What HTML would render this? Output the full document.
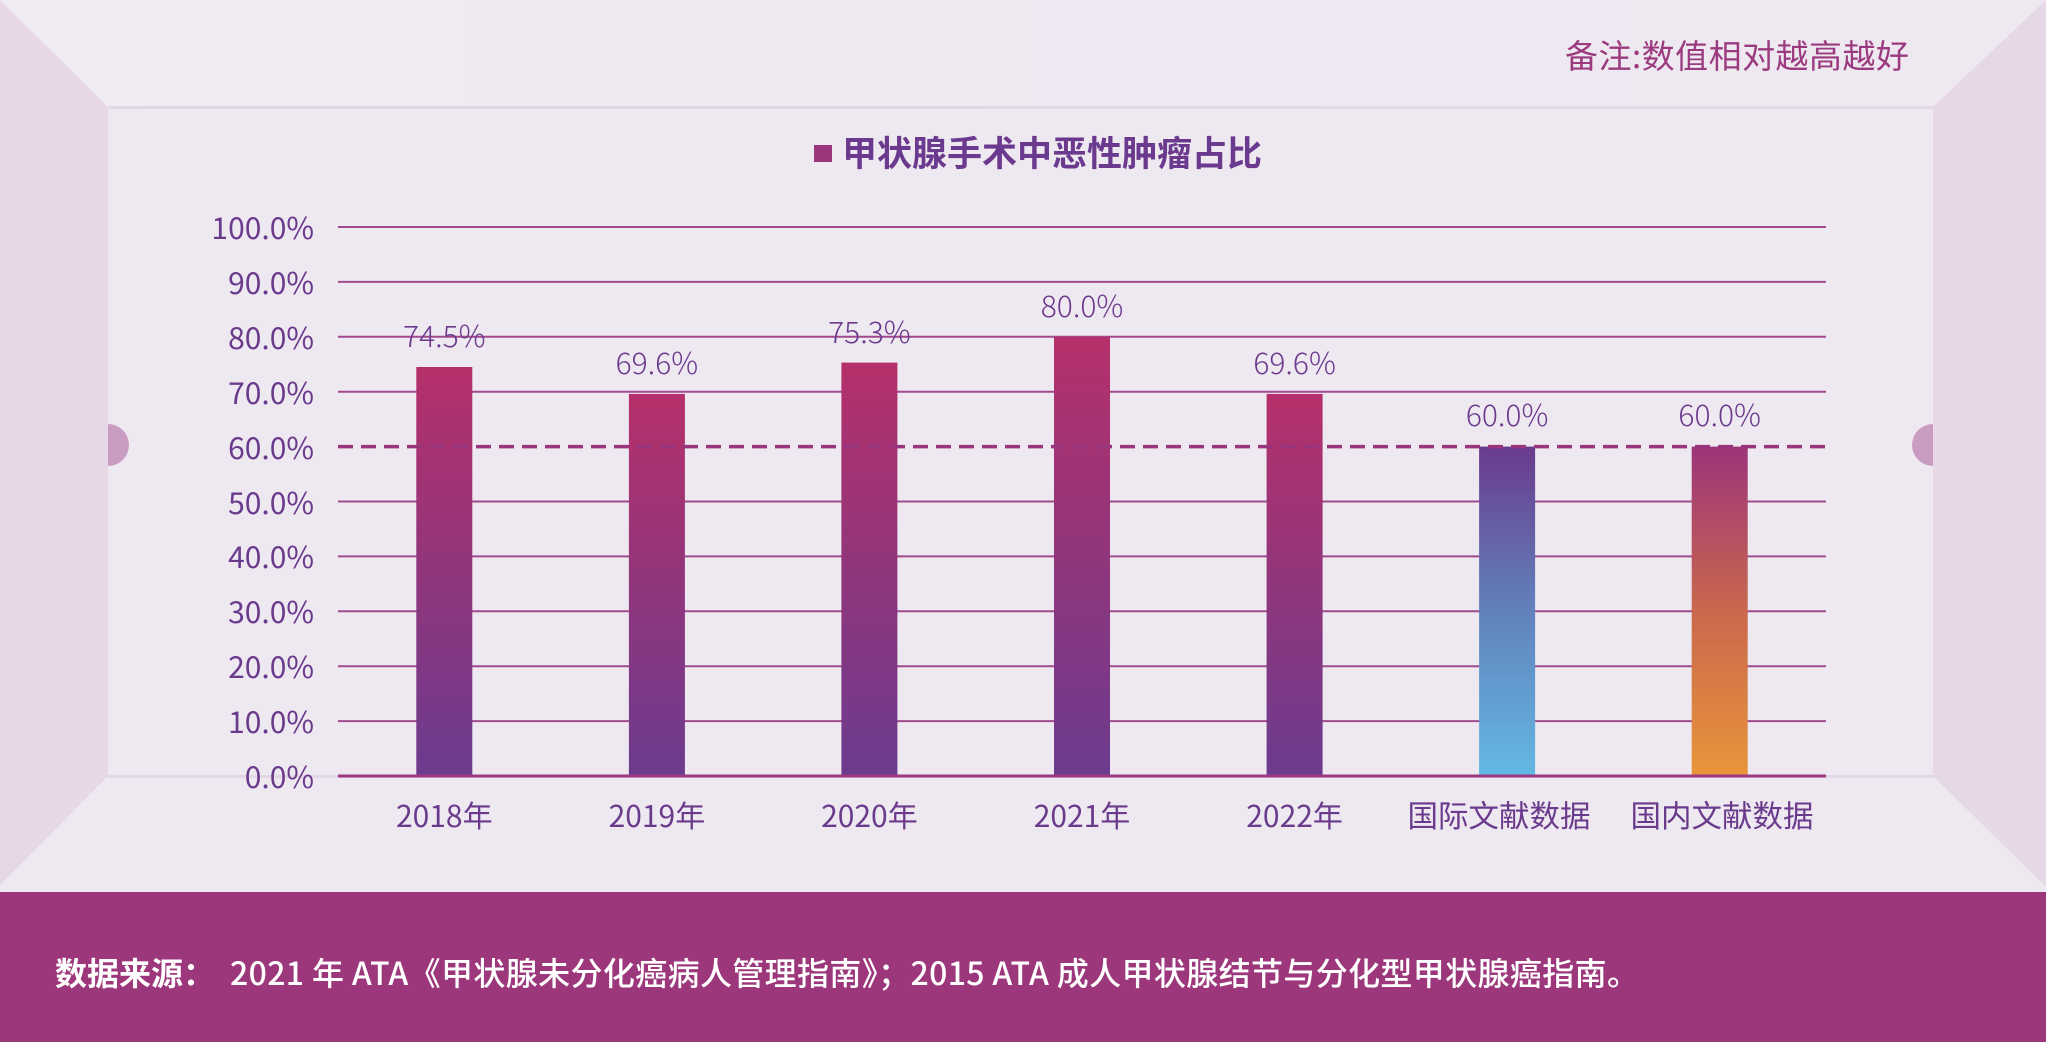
<!DOCTYPE html>
<html>
<head>
<meta charset="utf-8">
<style>
  html,body{margin:0;padding:0;background:#eee8f1;}
  svg{display:block;}
  text{font-family:"Noto Sans CJK SC","Liberation Sans","WenQuanYi Zen Hei",sans-serif;}
</style>
</head>
<body>
<svg width="2046" height="1042" viewBox="0 0 2046 1042" xmlns="http://www.w3.org/2000/svg">
  <defs>
    <linearGradient id="gMain" x1="0" y1="0" x2="0" y2="1">
      <stop offset="0" stop-color="#b5306a"/>
      <stop offset="1" stop-color="#6c3b8e"/>
    </linearGradient>
    <linearGradient id="gIntl" x1="0" y1="0" x2="0" y2="1">
      <stop offset="0" stop-color="#6a3b8e"/>
      <stop offset="0.5" stop-color="#6182bc"/>
      <stop offset="1" stop-color="#63b8e4"/>
    </linearGradient>
    <linearGradient id="gDom" x1="0" y1="0" x2="0" y2="1">
      <stop offset="0" stop-color="#9c3479"/>
      <stop offset="0.5" stop-color="#c9684e"/>
      <stop offset="1" stop-color="#e9953a"/>
    </linearGradient>
    <linearGradient id="gTop" x1="0" y1="0" x2="1" y2="0">
      <stop offset="0" stop-color="#f1ecf3"/>
      <stop offset="0.3" stop-color="#efe9f2"/>
      <stop offset="1" stop-color="#eee8f1"/>
    </linearGradient>
  </defs>

  <!-- background / room -->
  <rect x="0" y="0" width="2046" height="1042" fill="#eee8f0"/>
  <polygon points="0,0 2046,0 1933,107 108,107" fill="url(#gTop)"/>
  <rect x="108" y="107" width="1825" height="669" fill="#eee8f1"/>
  <polygon points="0,0 108,107 108,776 0,885" fill="#e6d8e6"/>
  <polygon points="2046,0 1933,107 1933,776 2046,887" fill="#e6d8e6"/>
  <line x1="108" y1="107.5" x2="1933" y2="107.5" stroke="#e4d7e5" stroke-width="3"/>
  <line x1="108" y1="776.5" x2="1933" y2="776.5" stroke="#e4d7e5" stroke-width="3"/>

  <!-- semicircles -->
  <path d="M108,424 A21,21 0 0 1 108,466 Z" fill="#c99dc2"/>
  <path d="M1933,424 A21,21 0 0 0 1933,466 Z" fill="#c99dc2"/>

  <!-- footer -->
  <rect x="0" y="892" width="2046" height="150" fill="#9c377c"/>

  <!-- note -->
  <text x="1909" y="68" font-size="33" fill="#9b3a7e" text-anchor="end" textLength="344" lengthAdjust="spacing">备注:数值相对越高越好</text>

  <!-- title -->
  <rect x="814" y="145" width="18" height="17" fill="#9b357c"/>
  <text x="842" y="166" font-size="35" font-weight="bold" fill="#6b3a8e" textLength="420" lengthAdjust="spacing">甲状腺手术中恶性肿瘤占比</text>

  <!-- gridlines -->
  <g stroke="#a04a8d" stroke-width="2">
    <line x1="338" y1="227" x2="1826" y2="227"/>
    <line x1="338" y1="281.9" x2="1826" y2="281.9"/>
    <line x1="338" y1="336.8" x2="1826" y2="336.8"/>
    <line x1="338" y1="391.7" x2="1826" y2="391.7"/>
    <line x1="338" y1="501.5" x2="1826" y2="501.5"/>
    <line x1="338" y1="556.4" x2="1826" y2="556.4"/>
    <line x1="338" y1="611.3" x2="1826" y2="611.3"/>
    <line x1="338" y1="666.2" x2="1826" y2="666.2"/>
    <line x1="338" y1="721.1" x2="1826" y2="721.1"/>
  </g>

  <!-- tick labels -->
  <g font-size="30" fill="#6a3a8c" text-anchor="end">
    <text x="314" y="239">100.0%</text>
    <text x="314" y="294">90.0%</text>
    <text x="314" y="349">80.0%</text>
    <text x="314" y="404">70.0%</text>
    <text x="314" y="459">60.0%</text>
    <text x="314" y="514">50.0%</text>
    <text x="314" y="568">40.0%</text>
    <text x="314" y="623">30.0%</text>
    <text x="314" y="678">20.0%</text>
    <text x="314" y="733">10.0%</text>
    <text x="314" y="788">0.0%</text>
  </g>

  <!-- bars -->
  <rect x="416.3" y="367" width="56" height="409" fill="url(#gMain)"/>
  <rect x="628.9" y="393.9" width="56" height="382.1" fill="url(#gMain)"/>
  <rect x="841.4" y="362.6" width="56" height="413.4" fill="url(#gMain)"/>
  <rect x="1054" y="336.8" width="56" height="439.2" fill="url(#gMain)"/>
  <rect x="1266.6" y="393.9" width="56" height="382.1" fill="url(#gMain)"/>
  <rect x="1479.1" y="446.6" width="56" height="329.4" fill="url(#gIntl)"/>
  <rect x="1691.7" y="446.6" width="56" height="329.4" fill="url(#gDom)"/>

  <!-- baseline -->
  <line x1="338" y1="776" x2="1826" y2="776" stroke="#9b3a82" stroke-width="3"/>

  <!-- dashed 60% line -->
  <line x1="338" y1="446.6" x2="1826" y2="446.6" stroke="#98357c" stroke-width="3.5" stroke-dasharray="15 8"/>

  <!-- value labels -->
  <g font-size="30" font-weight="300" fill="#6b3a8e" text-anchor="middle">
    <text x="444.3" y="347">74.5%</text>
    <text x="656.9" y="374">69.6%</text>
    <text x="869.4" y="343">75.3%</text>
    <text x="1082" y="317">80.0%</text>
    <text x="1294.6" y="374">69.6%</text>
    <text x="1507.1" y="426">60.0%</text>
    <text x="1719.7" y="426">60.0%</text>
  </g>

  <!-- category labels -->
  <g font-size="30" fill="#6a3a8c" text-anchor="middle">
    <text x="444.3" y="827">2018年</text>
    <text x="656.9" y="827">2019年</text>
    <text x="869.4" y="827">2020年</text>
    <text x="1082" y="827">2021年</text>
    <text x="1294.6" y="827">2022年</text>
    <text x="1499" y="827" font-size="30.5">国际文献数据</text>
    <text x="1722" y="827" font-size="30.5">国内文献数据</text>
  </g>

  <!-- footer text -->
  <text x="55" y="985" font-size="32" font-weight="bold" fill="#ffffff">数据来源：</text>
  <text x="230" y="985" font-size="32" font-weight="500" fill="#ffffff" textLength="1409" lengthAdjust="spacing">2021 年 ATA《甲状腺未分化癌病人管理指南》；2015 ATA 成人甲状腺结节与分化型甲状腺癌指南。</text>
</svg>
</body>
</html>
